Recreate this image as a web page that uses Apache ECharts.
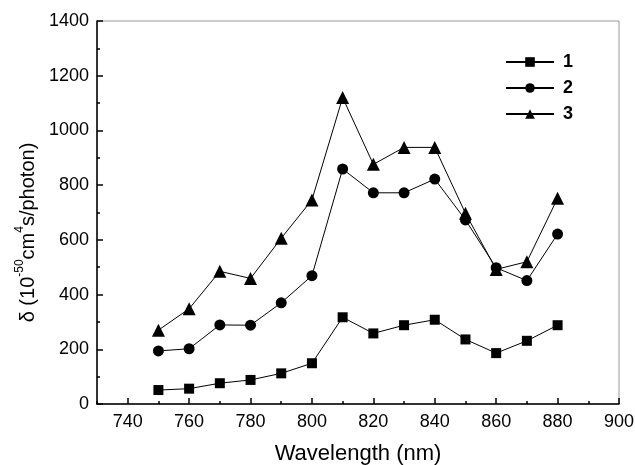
<!DOCTYPE html>
<html>
<head>
<meta charset="utf-8">
<script src="https://cdn.jsdelivr.net/npm/echarts@6/dist/echarts.min.js"></script>
<style>
  html, body { margin: 0; padding: 0; background: #fff; }
  #chart { width: 635px; height: 465px; }
</style>
</head>
<body>
<div id="chart"></div>
<script>
// wavelength (nm)
var wavelengths = [750, 760, 770, 780, 790, 800, 810, 820, 830, 840, 850, 860, 870, 880];
// delta values, 10^-50 cm^4 s/photon
var series1 = [51, 56, 76, 88, 112, 149, 317, 258, 288, 308, 236, 186, 231, 288];
var series2 = [194, 202, 289, 288, 370, 469, 859, 772, 772, 822, 673, 498, 451, 621];
var series3 = [270, 348, 485, 459, 606, 746, 1120, 876, 938, 938, 697, 492, 520, 752];
var seriesNames = ['1', '2', '3'];

var font = '"Liberation Sans", Arial, sans-serif';

function pairs(vals) {
  return wavelengths.map(function (w, i) { return [w, vals[i]]; });
}

var chart = echarts.init(document.getElementById('chart'));

// plot width is 522px for 730..900, so one 10 nm step
var step = 522 / 17;

var lineSeries = function (name, vals, symbol, size) {
  return {
    name: name,
    type: 'line',
    data: pairs(vals),
    symbol: symbol,
    symbolSize: size,
    showAllSymbol: true,
    lineStyle: { color: '#000', width: 1 },
    itemStyle: { color: '#000' },
    emphasis: { disabled: true },
    animation: false
  };
};

chart.setOption({
  animation: false,
  grid: [
    { left: 97, right: 16, top: 21, bottom: 61, show: true, borderColor: '#999', borderWidth: 1, outerBoundsMode: 'none' },
    // overlay grid, starts at 740 so the 20 nm ticks line up
    { left: 97 + step, right: 16, top: 21, bottom: 61, outerBoundsMode: 'none' }
  ],
  legend: {
    orient: 'vertical',
    left: 500,
    top: 48,
    itemWidth: 48,
    itemHeight: 12,
    itemGap: 8,
    data: seriesNames,
    textStyle: { fontFamily: font, fontSize: 18, fontWeight: 'bold', color: '#000', lineHeight: 14, padding: [0, 0, 0, 4] }
  },
  xAxis: [
    {
      type: 'value',
      gridIndex: 0,
      min: 730,
      max: 900,
      interval: 10,
      name: 'Wavelength (nm)',
      nameLocation: 'middle',
      nameGap: 39,
      nameTextStyle: { fontFamily: font, fontSize: 22, color: '#000' },
      axisLine: { show: true, onZero: false, lineStyle: { color: '#000', width: 1.5 } },
      axisTick: { show: true, inside: true, length: 3, lineStyle: { color: '#000', width: 1.5 } },
      axisLabel: { show: false },
      splitLine: { show: false }
    },
    {
      type: 'value',
      gridIndex: 1,
      min: 740,
      max: 900,
      interval: 20,
      axisLine: { show: false },
      axisTick: { show: true, inside: true, length: 6, lineStyle: { color: '#000', width: 1.5 } },
      axisLabel: { fontFamily: font, fontSize: 18, color: '#000', margin: 9 },
      splitLine: { show: false }
    }
  ],
  yAxis: [
    {
      type: 'value',
      gridIndex: 0,
      min: 0,
      max: 1400,
      interval: 200,
      name: '{a|δ (10}{s|-50}{a|cm}{s|4}{a|s/photon)}',
      nameLocation: 'middle',
      nameGap: 58,
      nameTextStyle: {
        padding: [0, 40, 0, 0],
        rich: {
          a: { fontFamily: font, fontSize: 20, color: '#000', lineHeight: 24, verticalAlign: 'bottom' },
          s: { fontFamily: font, fontSize: 12, color: '#000', lineHeight: 24, verticalAlign: 'top' }
        }
      },
      axisLine: { show: true, lineStyle: { color: '#000', width: 1.5 } },
      axisTick: { show: true, inside: true, length: 6, lineStyle: { color: '#000', width: 1.5 } },
      minorTick: { show: true, splitNumber: 2, length: 3, lineStyle: { color: '#000', width: 1.5 } },
      axisLabel: { fontFamily: font, fontSize: 18, color: '#000', margin: 8, formatter: function (v) { return String(v); } },
      splitLine: { show: false }
    },
    { type: 'value', gridIndex: 1, min: 0, max: 1400, show: false }
  ],
  series: [
    lineSeries(seriesNames[0], series1, 'rect', 10),
    lineSeries(seriesNames[1], series2, 'circle', 11),
    lineSeries(seriesNames[2], series3, 'triangle', 13)
  ]
});
</script>
</body>
</html>
